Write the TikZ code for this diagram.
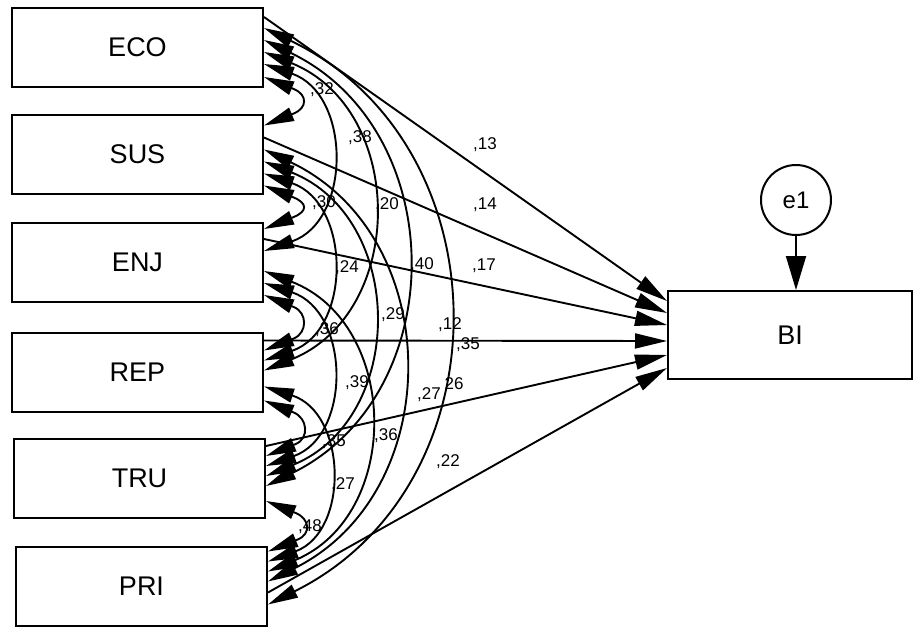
\documentclass[tikz,border=0pt]{standalone}
\usepackage{fontspec}
\setmainfont{Liberation Sans}
\usetikzlibrary{arrows.meta,calc}
\begin{document}
\begin{tikzpicture}[x=1pt,y=-1pt,
  box/.style={draw, line width=2pt, minimum width=251pt, minimum height=79pt, inner sep=0pt, font=\fontsize{27}{30}\selectfont},
  reg/.style={line width=1.9pt, -{Triangle[length=32pt,width=15pt]}},
  cov/.style={line width=1.9pt, {Triangle[length=30pt,width=14pt]}-{Triangle[length=30pt,width=14pt]}},
  ca/.style={cov, to path={-- ++(-22:32pt) .. controls +(-22:15pt) and +(22:15pt) .. ($(\tikztotarget)+(22:32pt)$) -- (\tikztotarget) \tikztonodes}},
  cb/.style={cov, bend left=71, looseness=1.27},
  cc/.style={cov, bend left=68, looseness=1.24},
  cd/.style={cov, bend left=64, looseness=1.19},
  ce/.style={cov, bend left=64, looseness=1.19},
  lab/.style={font=\fontsize{17}{19}\selectfont, inner sep=0pt}
]
\useasboundingbox[fill=white] (0,0) rectangle (914,627);
% boxes
\node[box] (ECO) at (137.5,47.5) {ECO};
\node[box] (SUS) at (137.5,154) {SUS};
\node[box] (ENJ) at (137.5,262.5) {ENJ};
\node[box] (REP) at (137.5,372) {REP};
\node[box] (TRU) at (139.5,478.5) {TRU};
\node[box] (PRI) at (141.5,586) {PRI};
\node[box, minimum width=244pt, minimum height=88pt] (BI) at (790,335) {BI};
\node[draw, circle, line width=2pt, minimum size=70pt, inner sep=0pt, font=\fontsize{24}{26}\selectfont] (e1) at (796,200) {e1};
% attachment points
\coordinate (eco-reg) at ($(ECO.north east)+(0,10)$);
\coordinate (eco-pri) at ($(ECO.north east)+(0,21)$);
\coordinate (eco-tru) at ($(ECO.north east)+(0,33)$);
\coordinate (eco-rep) at ($(ECO.north east)+(0,45)$);
\coordinate (eco-enj) at ($(ECO.north east)+(0,57)$);
\coordinate (eco-sus) at ($(ECO.north east)+(0,70)$);
\coordinate (sus-eco) at ($(SUS.north east)+(0,12)$);
\coordinate (sus-reg) at ($(SUS.north east)+(0,24)$);
\coordinate (sus-pri) at ($(SUS.north east)+(0,36)$);
\coordinate (sus-tru) at ($(SUS.north east)+(0,48)$);
\coordinate (sus-rep) at ($(SUS.north east)+(0,60)$);
\coordinate (sus-enj) at ($(SUS.north east)+(0,72)$);
\coordinate (enj-sus) at ($(ENJ.north east)+(0,7)$);
\coordinate (enj-reg) at ($(ENJ.north east)+(0,17)$);
\coordinate (enj-eco) at ($(ENJ.north east)+(0,29)$);
\coordinate (enj-pri) at ($(ENJ.north east)+(0,49)$);
\coordinate (enj-tru) at ($(ENJ.north east)+(0,61)$);
\coordinate (enj-rep) at ($(ENJ.north east)+(0,73)$);
\coordinate (rep-reg) at ($(REP.north east)+(0,9)$);
\coordinate (rep-enj) at ($(REP.north east)+(0,19)$);
\coordinate (rep-sus) at ($(REP.north east)+(0,29)$);
\coordinate (rep-eco) at ($(REP.north east)+(0,39)$);
\coordinate (rep-pri) at ($(REP.north east)+(0,55)$);
\coordinate (rep-tru) at ($(REP.north east)+(0,69)$);
\coordinate (tru-reg) at ($(TRU.north east)+(0,8)$);
\coordinate (tru-rep) at ($(TRU.north east)+(0,18)$);
\coordinate (tru-enj) at ($(TRU.north east)+(0,28)$);
\coordinate (tru-sus) at ($(TRU.north east)+(0,38)$);
\coordinate (tru-eco) at ($(TRU.north east)+(0,48)$);
\coordinate (tru-pri) at ($(TRU.north east)+(0,63)$);
\coordinate (pri-tru) at ($(PRI.north east)+(0,6)$);
\coordinate (pri-rep) at ($(PRI.north east)+(0,16)$);
\coordinate (pri-enj) at ($(PRI.north east)+(0,26)$);
\coordinate (pri-sus) at ($(PRI.north east)+(0,36)$);
\coordinate (pri-reg) at ($(PRI.north east)+(0,47)$);
\coordinate (pri-eco) at ($(PRI.north east)+(0,59)$);
\coordinate (bi1) at ($(BI.north west)+(0,11)$);
\coordinate (bi2) at ($(BI.north west)+(0,23)$);
\coordinate (bi3) at ($(BI.north west)+(0,35)$);
\coordinate (bi4) at ($(BI.north west)+(0,51)$);
\coordinate (bi5) at ($(BI.north west)+(0,65)$);
\coordinate (bi6) at ($(BI.north west)+(0,78)$);
% regressions
\draw[reg] (eco-reg) -- (bi1);
\draw[reg] (sus-reg) -- (bi2);
\draw[reg] (enj-reg) -- (bi3);
\draw[reg] (rep-reg) -- (bi4);
\draw[reg] (tru-reg) -- (bi5);
\draw[reg] (pri-reg) -- (bi6);
\draw[line width=1.9pt, -{Triangle[length=34pt,width=20pt]}] (e1.south) -- (e1.south |- BI.north);
% covariances
\draw[ca] (eco-sus) to (sus-eco);
\draw[ca] (sus-enj) to (enj-sus);
\draw[ca] (enj-rep) to (rep-enj);
\draw[ca] (rep-tru) to (tru-rep);
\draw[ca] (tru-pri) to (pri-tru);
\draw[cb] (eco-enj) to (enj-eco);
\draw[cb] (sus-rep) to (rep-sus);
\draw[cb] (enj-tru) to (tru-enj);
\draw[cb] (rep-pri) to (pri-rep);
\draw[cc] (eco-rep) to (rep-eco);
\draw[cc] (sus-tru) to (tru-sus);
\draw[cc] (enj-pri) to (pri-enj);
\draw[cd] (eco-tru) to (tru-eco);
\draw[cd] (sus-pri) to (pri-sus);
\draw[ce] (eco-pri) to (pri-eco);
% labels
\node[lab] (l01) at (322,90) {,32};
\node[lab] (l02) at (360,138) {,38};
\node[lab] (l03) at (485,145) {,13};
\node[lab] (l04) at (485,205) {,14};
\node[lab] (l05) at (324,203) {,30};
\node[lab] (l06) at (387,205) {,20};
\node[lab] (l07) at (347,268) {,24};
\node[lab] (l08) at (422,265) {,40};
\node[lab] (l09) at (484,266) {,17};
\node[lab] (l10) at (393,315) {,29};
\node[lab] (l11) at (450,325) {,12};
\node[lab] (l12) at (327,330) {,36};
\node[lab] (l13) at (468,345) {,35};
\node[lab] (l14) at (357,383) {,39};
\node[lab] (l15) at (429,395) {,27};
\node[lab] (l16) at (454,384) {26};
\node[lab] (l17) at (334,442) {,35};
\node[lab] (l18) at (386,436) {,36};
\node[lab] (l19) at (448,462) {,22};
\node[lab] (l20) at (343,485) {,27};
\node[lab] (l21) at (310,527) {,48};
\end{tikzpicture}
\end{document}
